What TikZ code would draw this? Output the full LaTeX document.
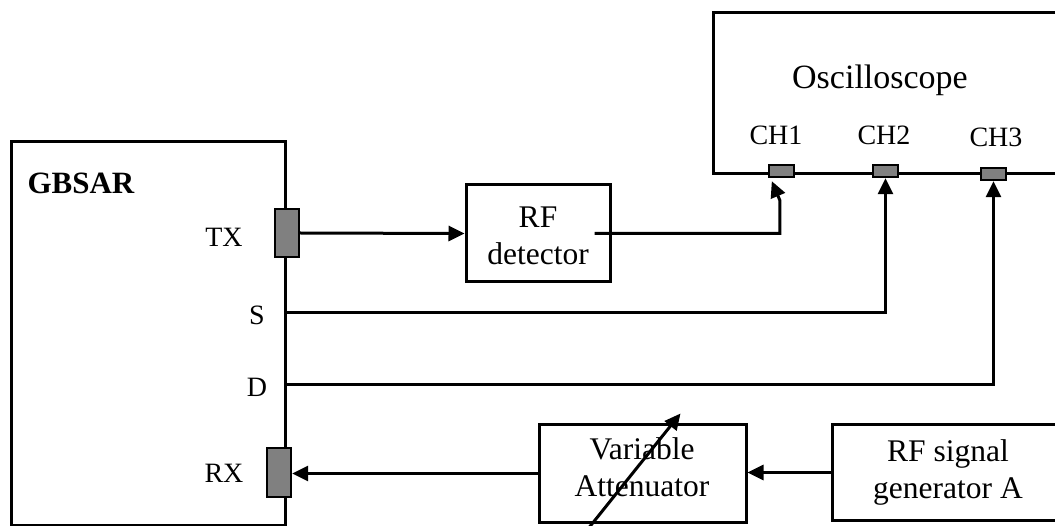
\documentclass[tikz,border=0pt]{standalone}
\usepackage{fontspec}
\setmainfont{Liberation Serif}
\usetikzlibrary{arrows.meta,calc}
\definecolor{portgray}{HTML}{808080}
\begin{document}
\begin{tikzpicture}[x=1pt,y=-1pt, line width=3pt,
 box/.style={draw, line width=3pt, inner sep=0pt},
 port/.style={draw, fill=portgray, line width=2.4pt, inner sep=0pt},
 lbl/.style={font=\fontsize{28}{32}\selectfont, inner sep=0pt},
 btxt/.style={font=\fontsize{31.5}{37}\selectfont, align=center, inner sep=0pt},
 arr/.style={-{Triangle[length=16pt,width=15pt]}, line width=3pt}]
\useasboundingbox (0,0) rectangle (1055,526);
% boxes
\node[box, minimum width=274pt, minimum height=383pt] (gbsar) at (148,333.5) {};
\node[box, minimum width=362pt, minimum height=161pt] (osc) at (894,93.5) {};
\node[box, minimum width=144pt, minimum height=97pt] (rfd) at (538,233.5) {};
\node[box, minimum width=207pt, minimum height=97pt] (att) at (642.5,473.5) {};
\node[box, minimum width=232pt, minimum height=95pt] (gen) at (948,472.5) {};
% ports
\node[port, minimum width=24pt, minimum height=48pt] (txp) at (287,233) {};
\node[port, minimum width=24pt, minimum height=49pt] (rxp) at (279,472.5) {};
\node[port, minimum width=25pt, minimum height=12pt] (ch1) at (781.5,171) {};
\node[port, minimum width=25pt, minimum height=12pt] (ch2) at (885.5,171) {};
\node[port, minimum width=25pt, minimum height=12pt] (ch3) at (993.5,174) {};
% texts
\node[font=\bfseries\fontsize{31}{36}\selectfont, inner sep=0pt, anchor=west] (tgb) at (26,183) {GBSAR};
\node[font=\fontsize{34}{40}\selectfont, inner sep=0pt] (tosc) at (880,80) {Oscilloscope};
\node[lbl] (tch1) at (776,135) {CH1};
\node[lbl] (tch2) at (884,135) {CH2};
\node[lbl] (tch3) at (996,137) {CH3};
\node[lbl] (ttx) at (224,237) {TX};
\node[lbl] (ts) at (257,315) {S};
\node[lbl] (td) at (257,387) {D};
\node[lbl] (trx) at (224,473) {RX};
\node[btxt] (trfd) at (538,236) {RF\\detector};
\node[btxt] (tatt) at (642,467) {Variable\\Attenuator};
\node[btxt] (tgen) at (948,472) {RF signal\\generator A};
% connectors
\draw[arr] (txp.east) -- (rfd.west);
\draw[arr] ($(rfd.east)+(-17,0)$) -| ($(ch1.south west)+(12,22)$) -- ($(ch1.south west)+(4,3)$);
\draw[arr] ($(gbsar.north east)+(0,172)$) -| (ch2.south);
\draw[arr] ($(gbsar.north east)+(0,244)$) -| (ch3.south);
\draw[arr] (att.west) -- (att.west -| rxp.east);
\draw[arr] (gen.west) -- (gen.west -| att.east);
\coordinate (dA) at ($(att.south west)+(50,6)$);
\coordinate (dB) at ($(att.north west)+(143,-10)$);
\draw[arr] (dA) -- (dB);
\end{tikzpicture}
\end{document}
